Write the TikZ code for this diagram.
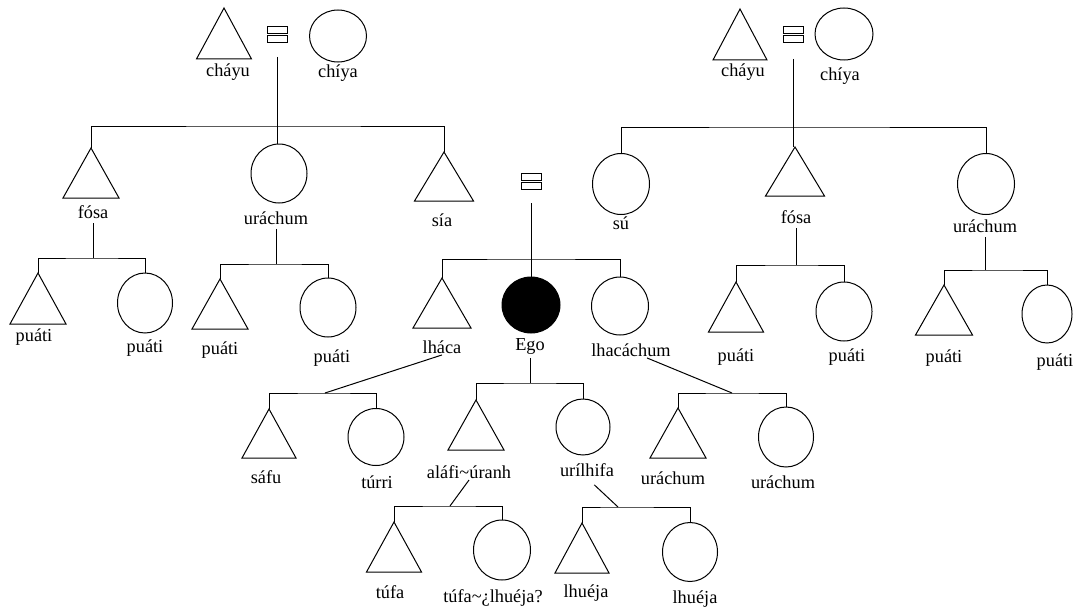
\documentclass[tikz,border=0pt]{standalone}
\usepackage{fontspec}
\setmainfont{Liberation Serif}
\usepackage{tikz}
\usetikzlibrary{positioning,shapes.geometric}

\begin{document}
\begin{tikzpicture}[x=1pt,y=-1pt,line width=1pt,
 male/.style={draw,isosceles triangle,isosceles triangle stretches,shape border rotate=90,inner sep=0pt,outer sep=0pt,anchor=apex,minimum width=56pt,minimum height=50pt},
 female/.style={draw,ellipse,inner sep=0pt,outer sep=0pt,minimum width=56pt,minimum height=59pt},
 eq/.style={draw,inner sep=0pt,outer sep=0pt,minimum width=20pt,minimum height=7pt},
 lab/.style={font=\fontsize{18.3}{20}\selectfont,inner sep=1pt}]
\useasboundingbox (0,0) rectangle (1075,610);

% father's parents and siblings
\node[male,minimum width=55pt,minimum height=51pt] (cha1) at (224,8) {};
\node[female,minimum width=57pt,minimum height=52pt] (chi1) at (338,36) {};
\node[eq] (m1a) at (277,30.5) {};\node[eq,below=2pt of m1a] (m1) {};
\node[lab] (cha1l) at (228,72) {cháyu};\node[lab] (chi1l) at (338,73) {chíya};
\node[male] (fos1) at (91,148) {};\node[lab] (fos1l) at (93,212) {fósa};
\node[female] (ura1) at (279,173.5) {};\node[lab] (ura1l) at (276,218) {uráchum};
\node[male,minimum width=59pt,minimum height=49pt] (sia1) at (444,152) {};\node[lab] (sia1l) at (442,220) {sía};
\coordinate (b1) at (279,126);
\draw[shorten <=14pt] (m1.south) -- (m1.south |- ura1.north);
\draw (fos1.apex) |- (b1) -| (sia1.apex);

% cousins on the father's side
\node[male,minimum height=51pt] (pua1) at (38,273) {};\node[lab] (pua1l) at (34,337) {puáti};
\node[female,minimum width=55pt,minimum height=60pt] (pua2) at (145,303) {};\node[lab] (pua2l) at (145,348) {puáti};
\node[male] (pua3) at (220,279) {};\node[lab] (pua3l) at (220,350) {puáti};
\node[female] (pua4) at (328,307.5) {};\node[lab] (pua4l) at (332,358) {puáti};
\coordinate (b2) at (92,258);\coordinate (b3) at (276,264);
\draw[shorten <=3pt] (fos1l.south) -- (fos1l.south |- b2);\draw (pua1.apex) |- (b2) -| (pua2.north);
\draw[shorten <=3pt] (ura1l.south) -- (ura1l.south |- b3);\draw (pua3.apex) |- (b3) -| (pua4.north);

% mother's parents and siblings
\node[male,minimum width=54pt,minimum height=51pt] (cha2) at (740,9) {};
\node[female,minimum width=58pt,minimum height=52pt] (chi2) at (844,34) {};
\node[eq] (m3a) at (793,30.5) {};\node[eq,below=2pt of m3a] (m3) {};
\node[lab] (cha2l) at (743,72) {cháyu};\node[lab] (chi2l) at (840,76) {chíya};
\node[female,minimum width=57pt,minimum height=61pt] (su) at (621,184) {};\node[lab] (sul) at (621,223) {sú};
\node[male,minimum width=59pt,minimum height=49pt] (fos2) at (795,147) {};\node[lab] (fos2l) at (796,217) {fósa};
\node[female,minimum width=57pt,minimum height=61pt] (ura2) at (986,184) {};\node[lab] (ura2l) at (985,226) {uráchum};
\coordinate (b4) at (795,127);
\draw[shorten <=16pt] (m3.south) -- (m3.south |- fos2.apex);
\draw (su.north) |- (b4) -| (ura2.north);

% cousins on the mother's side
\node[male,minimum width=55pt] (pua5) at (736,282) {};\node[lab] (pua5l) at (736,357) {puáti};
\node[female] (pua6) at (844,311.5) {};\node[lab] (pua6l) at (847,357) {puáti};
\node[male,minimum width=57pt] (pua7) at (944,285) {};\node[lab] (pua7l) at (944,358) {puáti};
\node[female,minimum width=50pt,minimum height=58pt] (pua8) at (1047,314) {};\node[lab] (pua8l) at (1055,362) {puáti};
\coordinate (b5) at (793,265);\coordinate (b6) at (999,270);
\draw[shorten <=3pt] (fos2l.south) -- (fos2l.south |- b5);\draw (pua5.apex) |- (b5) -| (pua6.north);
\draw[shorten <=3pt] (ura2l.south) -- (ura2l.south |- b6);\draw (pua7.apex) |- (b6) -| (pua8.north);

% Ego and siblings
\node[eq] (m2a) at (531,176.5) {};\node[eq,below=2pt of m2a] (m2) {};
\node[male,minimum width=58pt] (lha) at (442,278) {};\node[lab] (lhal) at (442,347) {lháca};
\node[female,fill=black,minimum width=58pt,minimum height=56pt] (ego) at (531,305) {};\node[lab] (egol) at (530,346) {Ego};
\node[female,minimum width=57pt,minimum height=58pt] (lhc) at (620,306) {};\node[lab] (lhcl) at (631,350) {lhacáchum};
\coordinate (b7) at (531,259);
\draw[shorten <=14pt] (m2.south) -- (m2.south |- ego.north);
\draw (lha.apex) |- (b7) -| (lhc.north);

% next generation
\node[male,minimum width=54pt,minimum height=49pt] (saf) at (269,409) {};\node[lab] (safl) at (266,477) {sáfu};
\node[female,minimum height=57pt] (tur) at (376,437) {};\node[lab] (turl) at (377,482) {túrri};
\node[male] (ala) at (476,400) {};\node[lab] (alal) at (469,472) {aláfi\textasciitilde úranh};
\node[female,minimum width=54pt,minimum height=56pt] (uri) at (583,427) {};\node[lab] (uril) at (587,470) {urílhifa};
\node[male] (ura3) at (678,408) {};\node[lab] (ura3l) at (673,478) {uráchum};
\node[female,minimum width=55pt,minimum height=60pt] (ura4) at (786,437) {};\node[lab] (ura4l) at (783,482) {uráchum};
\coordinate (b8) at (325,393);\coordinate (b9) at (530,383);\coordinate (b10) at (732,393);
\draw (lhal.south) -- (b8);\draw (saf.apex) |- (b8) -| (tur.north);
\draw[shorten <=3pt] (egol.south) -- (egol.south |- b9);\draw (ala.apex) |- (b9) -| (uri.north);
\draw ([xshift=16pt]lhcl.south) -- (b10);\draw (ura3.apex) |- (b10) -| (ura4.north);

% last generation
\node[male,minimum width=55pt] (tuf1) at (394,522) {};\node[lab] (tuf1l) at (390,592) {túfa};
\node[female,minimum width=57pt,minimum height=60pt] (tuf2) at (502,550) {};\node[lab] (tuf2l) at (493,598) {túfa\textasciitilde¿lhuéja?};
\node[male,minimum width=54pt] (lhu1) at (582,523) {};\node[lab] (lhu1l) at (586,593) {lhuéja};
\node[female,minimum width=55pt,minimum height=59pt] (lhu2) at (690,552) {};\node[lab] (lhu2l) at (695,599) {lhuéja};
\coordinate (b11) at (450,506);\coordinate (b12) at (618,507);
\draw (alal.south) -- (b11);\draw (tuf1.apex) |- (b11) -| (tuf2.north);
\draw[shorten <=10pt] (uril.south) -- (b12);\draw (lhu1.apex) |- (b12) -| (lhu2.north);
\end{tikzpicture}
\end{document}
